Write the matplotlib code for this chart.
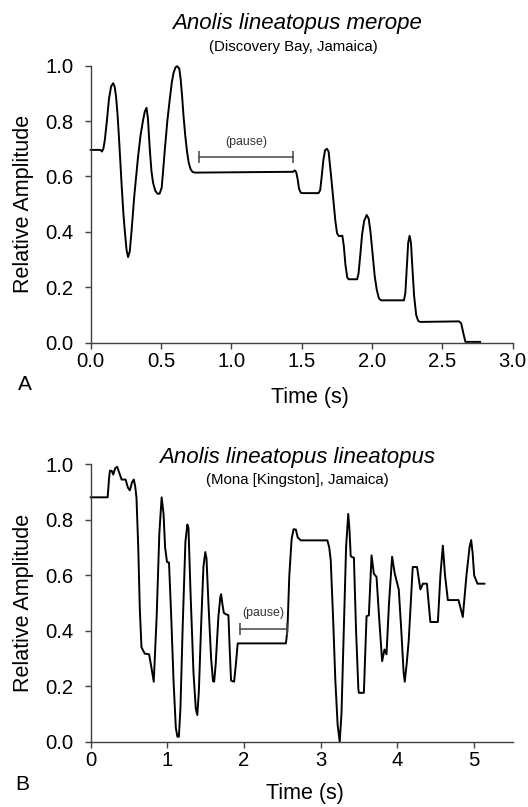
import numpy as np
import matplotlib.pyplot as plt

plt.rcParams['font.family'] = ['Liberation Sans', 'DejaVu Sans']

# ---- panel A: Anolis lineatopus merope ----
time_a = [0.0, 0.07, 0.08, 0.09, 0.10, 0.115, 0.13, 0.145, 0.16, 0.17, 0.18, 0.19,
          0.20, 0.21, 0.22, 0.232, 0.243, 0.255, 0.266, 0.278, 0.29, 0.31, 0.337, 0.355,
          0.373, 0.385, 0.397, 0.407, 0.42, 0.432, 0.444, 0.46, 0.475, 0.49, 0.505, 0.515,
          0.527, 0.545, 0.562, 0.577, 0.59, 0.603, 0.614, 0.63, 0.64, 0.65, 0.66, 0.672,
          0.685, 0.697, 0.71, 0.725, 0.745,
          1.44, 1.452, 1.462, 1.472, 1.482, 1.495, 1.51, 1.62, 1.632, 1.643, 1.655, 1.667,
          1.68, 1.692, 1.70, 1.71, 1.725, 1.74, 1.752, 1.765, 1.79, 1.80, 1.812, 1.825,
          1.835, 1.895, 1.905, 1.918, 1.93, 1.945, 1.963, 1.977, 1.99, 2.005, 2.02, 2.035,
          2.05, 2.065, 2.228, 2.238, 2.248, 2.258, 2.268, 2.278, 2.288, 2.30, 2.315, 2.33,
          2.345, 2.62, 2.635, 2.65, 2.665, 2.77]
amp_a = [0.696, 0.696, 0.690, 0.70, 0.73, 0.80, 0.88, 0.925, 0.937, 0.925, 0.89, 0.83,
         0.75, 0.66, 0.57, 0.47, 0.40, 0.335, 0.309, 0.33, 0.40, 0.53, 0.672, 0.75,
         0.805, 0.835, 0.848, 0.81, 0.70, 0.62, 0.576, 0.548, 0.538, 0.538, 0.56, 0.62,
         0.696, 0.80, 0.877, 0.94, 0.975, 0.994, 0.998, 0.99, 0.95, 0.89, 0.82, 0.75,
         0.69, 0.65, 0.627, 0.616, 0.614,
         0.617, 0.622, 0.615, 0.59, 0.555, 0.541, 0.54, 0.54, 0.55, 0.60, 0.66, 0.695,
         0.70, 0.69, 0.65, 0.60, 0.52, 0.44, 0.395, 0.385, 0.386, 0.35, 0.28, 0.235,
         0.229, 0.229, 0.25, 0.32, 0.39, 0.44, 0.461, 0.448, 0.40, 0.32, 0.24, 0.19,
         0.16, 0.153, 0.153, 0.18, 0.27, 0.36, 0.386, 0.36, 0.27, 0.17, 0.10, 0.078,
         0.075, 0.077, 0.07, 0.035, 0.003, 0.003]
pause_a = [0.770, 1.436]
pause_a_level = 0.672

# ---- panel B: Anolis lineatopus lineatopus ----
time_b = [0.0, 0.221, 0.24, 0.251, 0.275, 0.294, 0.32, 0.345, 0.37, 0.403, 0.455, 0.485,
          0.51, 0.54, 0.562, 0.58, 0.597, 0.62, 0.64, 0.662, 0.705, 0.761, 0.79, 0.822,
          0.86, 0.895, 0.925, 0.95, 0.97, 0.995, 1.021, 1.05, 1.08, 1.11, 1.13, 1.15,
          1.17, 1.20, 1.235, 1.26, 1.275, 1.30, 1.34, 1.37, 1.39, 1.41, 1.44, 1.47,
          1.494, 1.51, 1.535, 1.57, 1.595, 1.61, 1.63, 1.665, 1.69, 1.701, 1.715, 1.735,
          1.744, 1.796, 1.81, 1.83, 1.87, 1.89, 1.917, 2.545, 2.565, 2.59, 2.62, 2.645,
          2.675, 2.70, 2.74, 3.086, 3.11, 3.13, 3.16, 3.19, 3.22, 3.247, 3.27, 3.30,
          3.33, 3.358, 3.375, 3.39, 3.403, 3.432, 3.46, 3.49, 3.497, 3.562, 3.58, 3.597,
          3.627, 3.662, 3.692, 3.727, 3.76, 3.80, 3.831, 3.857, 3.89, 3.93, 3.965, 4.017,
          4.05, 4.08, 4.095, 4.12, 4.147, 4.17, 4.199, 4.255, 4.299, 4.332, 4.384, 4.429,
          4.527, 4.56, 4.592, 4.62, 4.657, 4.796, 4.852, 4.90, 4.94, 4.961, 4.98, 5.0,
          5.043, 5.134]
amp_b = [0.88, 0.88, 0.95, 0.976, 0.975, 0.962, 0.985, 0.99, 0.97, 0.944, 0.944, 0.915,
         0.905, 0.935, 0.944, 0.92, 0.878, 0.70, 0.48, 0.34, 0.317, 0.315, 0.27, 0.216,
         0.45, 0.75, 0.88, 0.82, 0.70, 0.647, 0.645, 0.45, 0.22, 0.05, 0.018, 0.018,
         0.12, 0.42, 0.72, 0.782, 0.77, 0.55, 0.25, 0.12, 0.096, 0.18, 0.42, 0.63,
         0.683, 0.66, 0.50, 0.30, 0.218, 0.216, 0.28, 0.45, 0.52, 0.531, 0.50, 0.465,
         0.462, 0.455, 0.35, 0.22, 0.216, 0.27, 0.354, 0.354, 0.40, 0.60, 0.73, 0.765,
         0.764, 0.735, 0.725, 0.725, 0.70, 0.653, 0.45, 0.22, 0.06, 0.0, 0.10, 0.40,
         0.70, 0.82, 0.76, 0.67, 0.665, 0.663, 0.40, 0.19, 0.176, 0.176, 0.32, 0.452,
         0.455, 0.671, 0.605, 0.593, 0.45, 0.29, 0.332, 0.315, 0.50, 0.666, 0.605, 0.548,
         0.40, 0.25, 0.216, 0.28, 0.365, 0.48, 0.629, 0.629, 0.548, 0.569, 0.569, 0.431,
         0.431, 0.60, 0.706, 0.60, 0.51, 0.51, 0.449, 0.60, 0.70, 0.726, 0.68, 0.599,
         0.569, 0.569]
pause_b = [1.952, 2.558]
pause_b_level = 0.406

W, H = 528, 807
fig = plt.figure(figsize=(W / 100, H / 100), dpi=100)


def axes_px(left, top, right, bottom):
    return fig.add_axes([left / W, 1 - bottom / H, (right - left) / W, (bottom - top) / H])


def style(ax):
    for s in ['top', 'right']:
        ax.spines[s].set_visible(False)
    for s in ['left', 'bottom']:
        ax.spines[s].set_color('#404040')
        ax.spines[s].set_linewidth(1.0)
    ax.tick_params(direction='out', length=4.3, width=1.0, color='#404040',
                   labelsize=14.6, labelcolor='black')
    ax.tick_params(axis='y', pad=8)
    ax.tick_params(axis='x', pad=2.5)
    ax.set_ylim(0, 1)
    ax.set_yticks(np.arange(0, 1.01, 0.2))
    ax.set_yticklabels(['%.1f' % v for v in np.arange(0, 1.01, 0.2)])


ax_a = axes_px(90.7, 65.7, 512.5, 342.7)
style(ax_a)
ax_a.plot(time_a, amp_a, color='black', lw=1.4, solid_joinstyle='round', clip_on=False)
ax_a.set_xlim(0, 3)
ax_a.set_xticks(np.arange(0, 3.01, 0.5))
ax_a.set_xticklabels(['%.1f' % v for v in np.arange(0, 3.01, 0.5)])
ax_a.plot(pause_a, [pause_a_level] * 2, color='#444444', lw=1.1, marker='|', ms=9, mew=1.1)
ax_a.text(np.mean(pause_a), pause_a_level + 0.051, '(pause)', fontsize=8.9,
          ha='center', va='center', color='#333333')

ax_b = axes_px(90.7, 464, 512.5, 741.7)
style(ax_b)
ax_b.plot(time_b, amp_b, color='black', lw=1.4, solid_joinstyle='round', clip_on=False)
ax_b.set_xlim(0, 5.5)
ax_b.set_xticks(range(6))
ax_b.plot(pause_b, [pause_b_level] * 2, color='#444444', lw=1.1, marker='|', ms=9, mew=1.1)
ax_b.text(np.mean(pause_b), pause_b_level + 0.057, '(pause)', fontsize=8.9,
          ha='center', va='center', color='#333333')

# titles and labels
fig.text(297 / W, 1 - 23 / H, 'Anolis lineatopus merope', fontsize=16, style='italic',
         ha='center', va='center')
fig.text(293 / W, 1 - 47.5 / H, '(Discovery Bay, Jamaica)', fontsize=10.8,
         ha='center', va='center')
fig.text(297.5 / W, 1 - 457 / H, 'Anolis lineatopus lineatopus', fontsize=16, style='italic',
         ha='center', va='center')
fig.text(297.5 / W, 1 - 480 / H, '(Mona [Kingston], Jamaica)', fontsize=10.8,
         ha='center', va='center')

fig.text(310 / W, 1 - 397 / H, 'Time (s)', fontsize=15.5, ha='center', va='center')
fig.text(305 / W, 1 - 793 / H, 'Time (s)', fontsize=15.5, ha='center', va='center')
fig.text(23.6 / W, 1 - 204 / H, 'Relative Amplitude', fontsize=15.5, rotation=90,
         ha='center', va='center')
fig.text(23.6 / W, 1 - 603 / H, 'Relative Amplitude', fontsize=15.5, rotation=90,
         ha='center', va='center')
fig.text(24.5 / W, 1 - 384 / H, 'A', fontsize=15, ha='center', va='center')
fig.text(22.5 / W, 1 - 785 / H, 'B', fontsize=15, ha='center', va='center')

fig.savefig('out.png', dpi=100)
